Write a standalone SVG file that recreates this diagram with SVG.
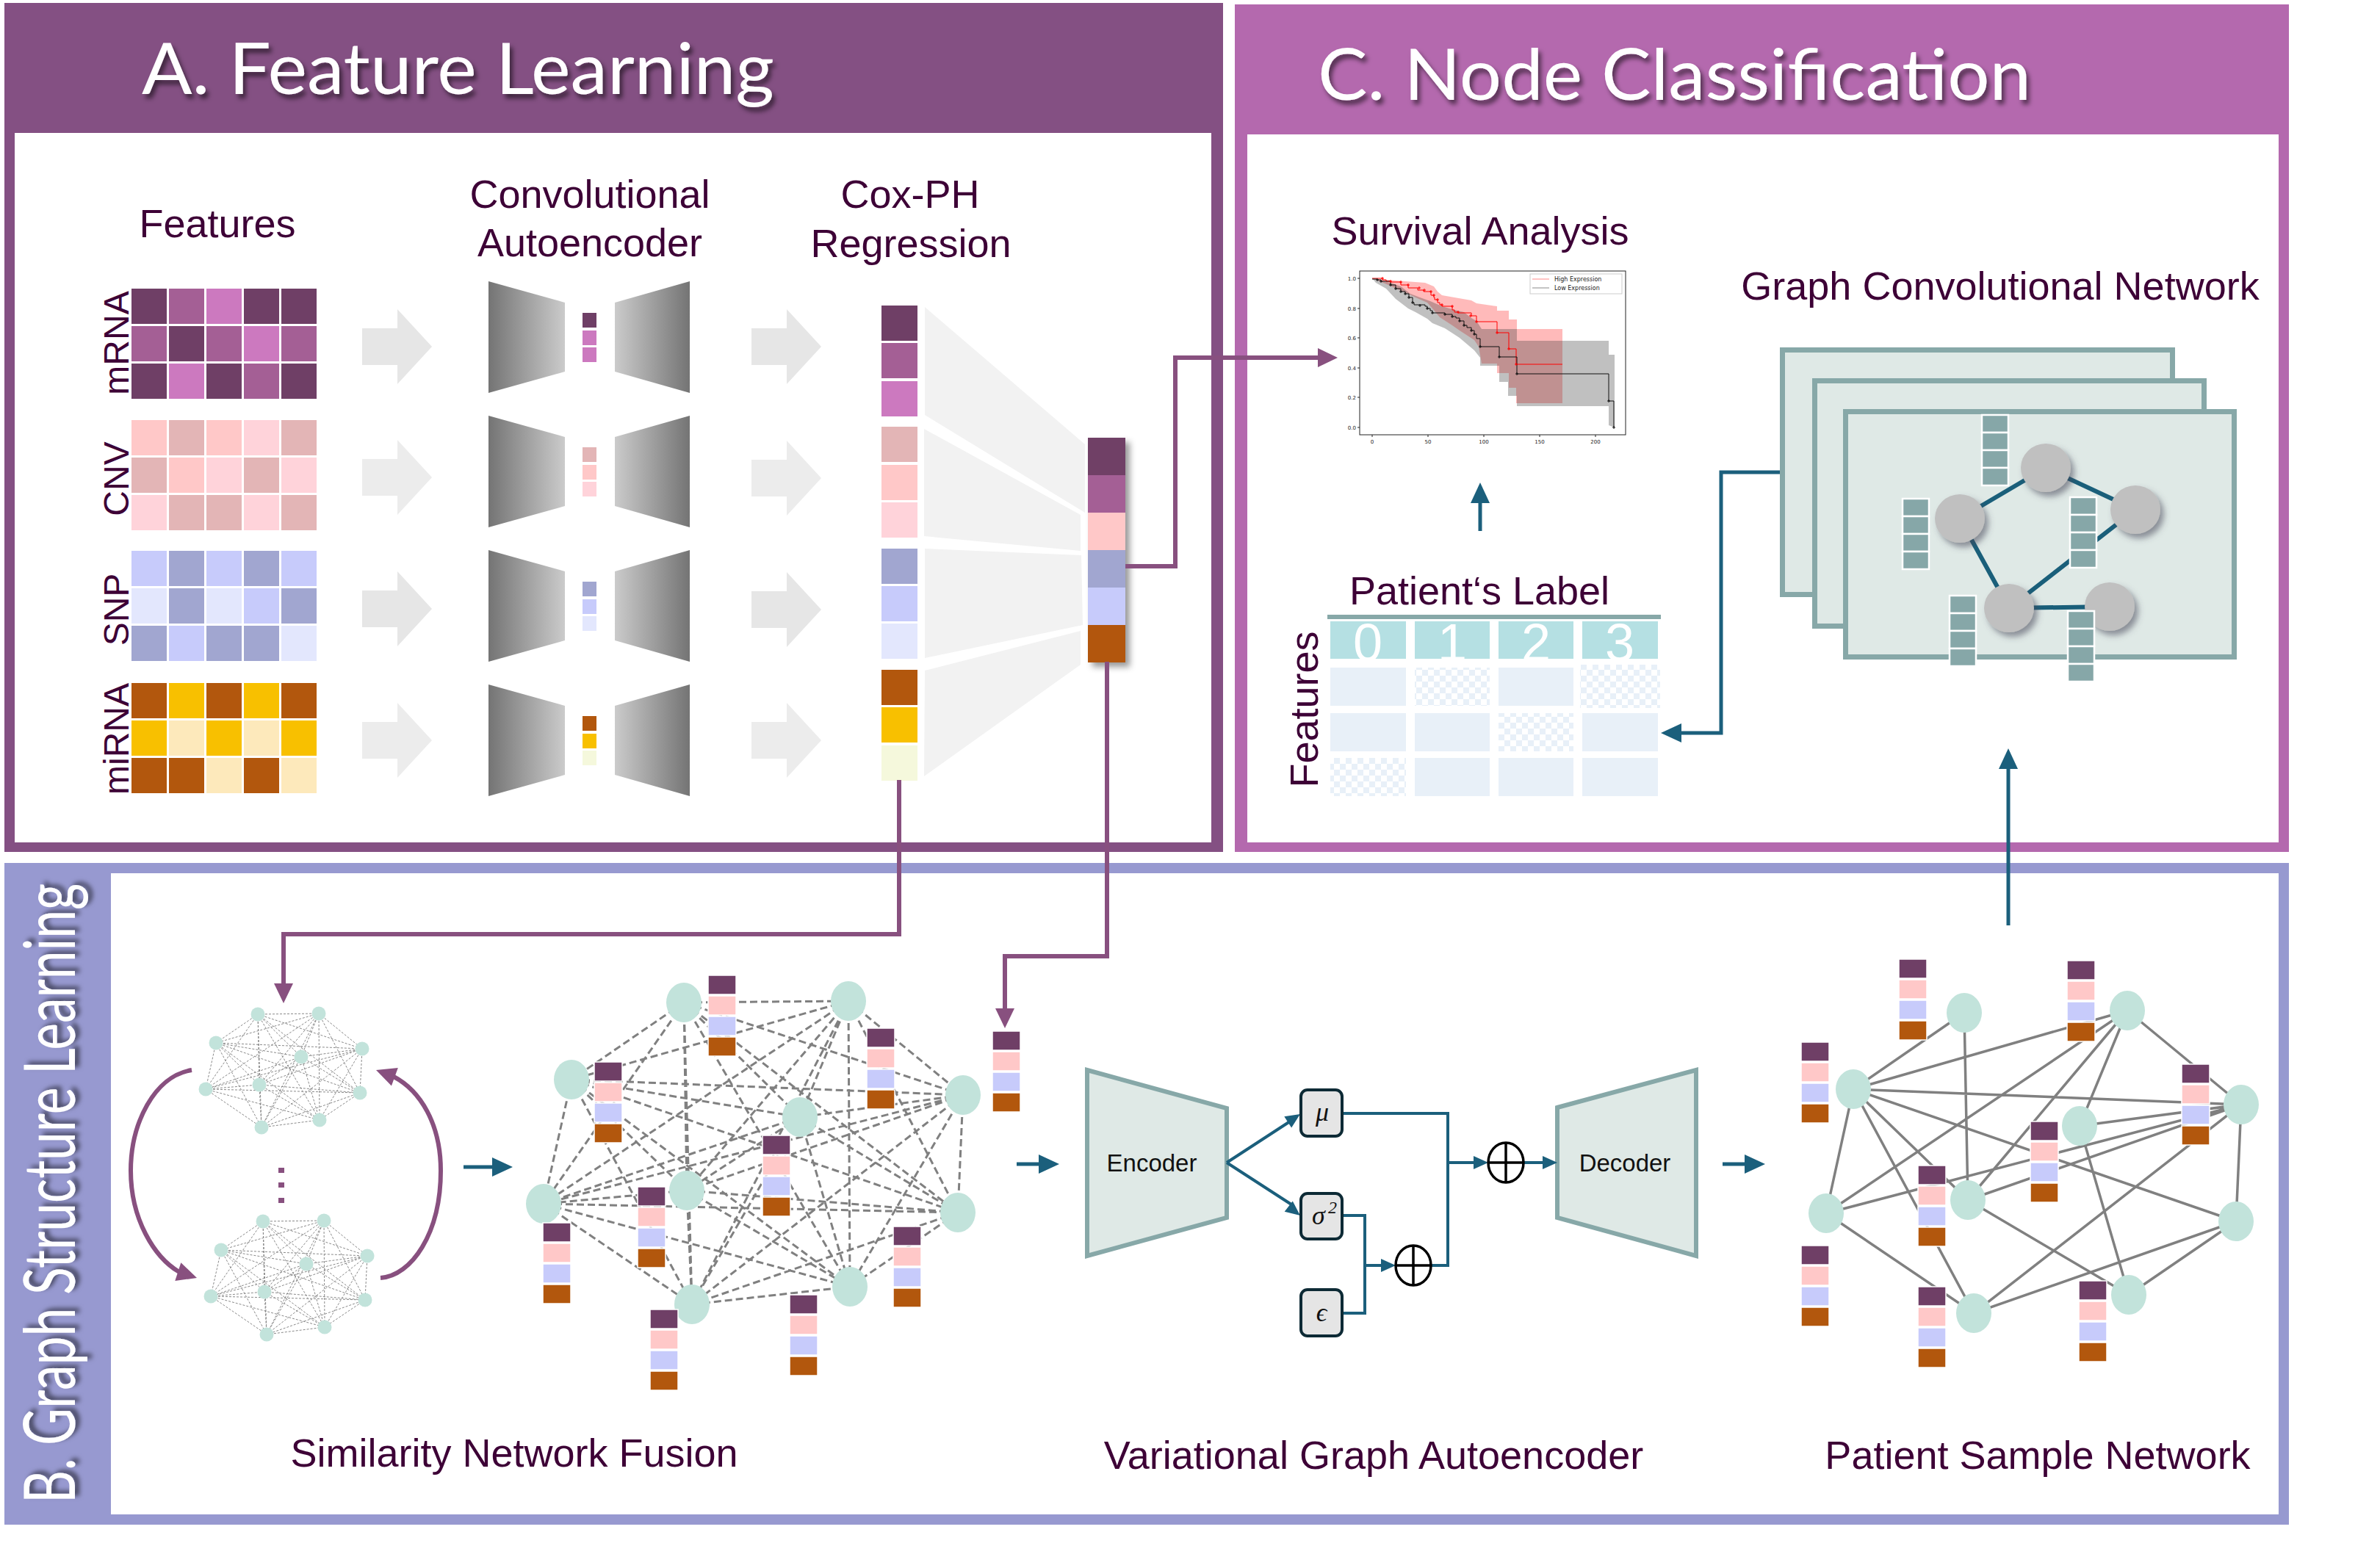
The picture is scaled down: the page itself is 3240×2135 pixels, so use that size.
<svg xmlns="http://www.w3.org/2000/svg" xmlns:xlink="http://www.w3.org/1999/xlink" width="3240" height="2135" viewBox="0 0 3240 2135">
<style>
.lbl{font-family:"Liberation Sans",Arial,sans-serif;font-size:54px;fill:#3d0036;text-anchor:middle}
.om{font-family:"Liberation Sans",Arial,sans-serif;font-size:48px;fill:#3d0036;text-anchor:middle}
.ttl{font-family:"Lato","Open Sans","Noto Sans",sans-serif;font-weight:400;fill:#ffffff;font-size:96px}
.m1{fill:#6f3f66}.m2{fill:#a45f95}.m3{fill:#cc79bf}
.c1{fill:#e3b5b6}.c2{fill:#ffc8c8}.c3{fill:#ffd3da}
.s1{fill:#a1a6d0}.s2{fill:#c7cbfb}.s3{fill:#e3e7fd}
.r1{fill:#b2570d}.r2{fill:#f8c000}.r3{fill:#fde9bb}.r4{fill:#f5f8dc}
.garr{fill:#e6e6e6}
.fun{fill:#f2f2f2}
.pcon{fill:none;stroke:#88507f;stroke-width:6}
.tcon{fill:none;stroke:#1b5f7c;stroke-width:5}
.vcon{fill:none;stroke:#1b5f7c;stroke-width:4}
.snode{fill:#c2e3db}
.tick{font-family:"DejaVu Sans",sans-serif;font-size:7px;fill:#222}
.leg{font-family:"DejaVu Sans",sans-serif;font-size:8px;fill:#222}
.frame{fill:#dfe9e6;stroke:#87a8a8;stroke-width:7}
.gedge{stroke:#1a5f7a;stroke-width:6;fill:none}
.cell{fill:#e8f0f8}
.hcell{fill:#b5e0e3}
.box{fill:#e5e5e5;stroke:#0d2a35;stroke-width:4}
.math{font-family:"Liberation Serif","DejaVu Serif",serif;font-style:italic;fill:#111}
.ed{font-family:"Liberation Sans",Arial,sans-serif;font-size:33px;fill:#111;text-anchor:middle}
</style>
<defs>
<filter id="tsh" x="-10%" y="-30%" width="120%" height="160%"><feDropShadow dx="4" dy="6" stdDeviation="3" flood-color="#000" flood-opacity="0.55"/></filter>
<filter id="nsh" x="-40%" y="-40%" width="180%" height="180%"><feDropShadow dx="5" dy="6" stdDeviation="4" flood-color="#445" flood-opacity="0.55"/></filter>
<filter id="csh" x="-30%" y="-10%" width="160%" height="120%"><feDropShadow dx="6" dy="6" stdDeviation="4" flood-color="#000" flood-opacity="0.4"/></filter>
<linearGradient id="gL" x1="0" y1="0" x2="1" y2="0"><stop offset="0" stop-color="#747474"/><stop offset="1" stop-color="#cbcbcb"/></linearGradient>
<linearGradient id="gR" x1="0" y1="0" x2="1" y2="0"><stop offset="0" stop-color="#cbcbcb"/><stop offset="1" stop-color="#747474"/></linearGradient>
<pattern id="chk" width="16" height="16" patternUnits="userSpaceOnUse"><rect width="16" height="16" fill="#ffffff"/><rect width="8" height="8" fill="#e8f0f8"/><rect x="8" y="8" width="8" height="8" fill="#e8f0f8"/></pattern>
<path id="garrow" d="M0 -25 H48 V-51 L95 0 L48 51 V25 H0 Z"/>
<path id="ahP" d="M0 0 L-27 -13 L-27 13 Z" fill="#88507f"/>
<path id="ahT" d="M0 0 L-28 -13 L-28 13 Z" fill="#1b5f7c"/>
<path id="ahS" d="M0 0 L-20 -9 L-20 9 Z" fill="#1b5f7c"/>
<g id="ae"><polygon points="0,0 104,29 104,123 0,152" fill="url(#gL)"/><polygon points="172,29 274,0 274,152 172,123" fill="url(#gR)"/></g>
<g id="stk" stroke="#ffffff" stroke-width="1.5"><rect width="38" height="26" class="m1"/><rect y="28" width="38" height="26" class="c2"/><rect y="56" width="38" height="26" class="s2"/><rect y="84" width="38" height="26" class="r1"/></g>
<g id="gcol" fill="#86a7a8" stroke="#ffffff" stroke-width="2.5"><rect width="36" height="24"/><rect y="24" width="36" height="24"/><rect y="48" width="36" height="24"/><rect y="72" width="36" height="24"/></g>
<path id="snfedges" fill="none" stroke="#8a8a8a" stroke-width="1" stroke-dasharray="3 2" d="M351 1381L434 1380M351 1381L294 1420M351 1381L493 1428M351 1381L410 1439M351 1381L280 1483M351 1381L353 1477M351 1381L490 1488M351 1381L356 1535M351 1381L435 1525M434 1380L294 1420M434 1380L493 1428M434 1380L410 1439M434 1380L280 1483M434 1380L353 1477M434 1380L490 1488M434 1380L356 1535M434 1380L435 1525M294 1420L493 1428M294 1420L410 1439M294 1420L280 1483M294 1420L353 1477M294 1420L490 1488M294 1420L356 1535M294 1420L435 1525M493 1428L410 1439M493 1428L280 1483M493 1428L353 1477M493 1428L490 1488M493 1428L356 1535M493 1428L435 1525M410 1439L280 1483M410 1439L353 1477M410 1439L490 1488M410 1439L356 1535M410 1439L435 1525M280 1483L353 1477M280 1483L490 1488M280 1483L356 1535M280 1483L435 1525M353 1477L490 1488M353 1477L356 1535M353 1477L435 1525M490 1488L356 1535M490 1488L435 1525M356 1535L435 1525"/>
<g id="snfnodes" class="snode"><circle cx="351" cy="1381" r="9.5"/><circle cx="434" cy="1380" r="9.5"/><circle cx="294" cy="1420" r="9.5"/><circle cx="493" cy="1428" r="9.5"/><circle cx="410" cy="1439" r="9.5"/><circle cx="280" cy="1483" r="9.5"/><circle cx="353" cy="1477" r="9.5"/><circle cx="490" cy="1488" r="9.5"/><circle cx="356" cy="1535" r="9.5"/><circle cx="435" cy="1525" r="9.5"/></g>
<clipPath id="hclip"><rect x="1811" y="846" width="103" height="51"/><rect x="1926" y="846" width="102" height="51"/><rect x="2040" y="846" width="102" height="51"/><rect x="2154" y="846" width="103" height="51"/></clipPath>
</defs>

<rect width="3240" height="2135" fill="#ffffff"/>

<!-- Panels -->
<g id="panelA">
<rect x="6" y="4" width="1659" height="1156" fill="#845083"/>
<rect x="20" y="181" width="1629" height="966" fill="#ffffff"/>
<text class="ttl" x="193" y="128" textLength="861" lengthAdjust="spacingAndGlyphs" filter="url(#tsh)">A. Feature Learning</text>
</g>
<g id="panelC">
<rect x="1681" y="6" width="1435" height="1154" fill="#b469ae"/>
<rect x="1698" y="183" width="1404" height="964" fill="#ffffff"/>
<text class="ttl" x="1794" y="136" textLength="971" lengthAdjust="spacingAndGlyphs" filter="url(#tsh)">C. Node Classification</text>
</g>
<g id="panelB">
<rect x="6" y="1175" width="3110" height="901" fill="#9799d0"/>
<rect x="151" y="1189" width="2951" height="873" fill="#ffffff"/>
<text class="ttl" transform="translate(102,2047) rotate(-90)" x="0" y="0" font-size="78" textLength="844" lengthAdjust="spacingAndGlyphs" filter="url(#tsh)">B. Graph Structure Learning</text>
</g>

<!-- A: Features -->
<g id="features">
<text class="lbl" x="296" y="323">Features</text>
<text class="om" transform="translate(175,467) rotate(-90)">mRNA</text>
<text class="om" transform="translate(175,652) rotate(-90)">CNV</text>
<text class="om" transform="translate(175,830) rotate(-90)">SNP</text>
<text class="om" transform="translate(175,1006) rotate(-90)">miRNA</text>
<g id="hm-mrna">
<rect x="179" y="393" width="48" height="48" class="m1"/><rect x="230" y="393" width="48" height="48" class="m2"/><rect x="281" y="393" width="48" height="48" class="m3"/><rect x="332" y="393" width="48" height="48" class="m1"/><rect x="383" y="393" width="48" height="48" class="m1"/>
<rect x="179" y="444" width="48" height="48" class="m2"/><rect x="230" y="444" width="48" height="48" class="m1"/><rect x="281" y="444" width="48" height="48" class="m2"/><rect x="332" y="444" width="48" height="48" class="m3"/><rect x="383" y="444" width="48" height="48" class="m2"/>
<rect x="179" y="495" width="48" height="48" class="m1"/><rect x="230" y="495" width="48" height="48" class="m3"/><rect x="281" y="495" width="48" height="48" class="m1"/><rect x="332" y="495" width="48" height="48" class="m2"/><rect x="383" y="495" width="48" height="48" class="m1"/>
</g>
<g id="hm-cnv">
<rect x="179" y="572" width="48" height="48" class="c2"/><rect x="230" y="572" width="48" height="48" class="c1"/><rect x="281" y="572" width="48" height="48" class="c2"/><rect x="332" y="572" width="48" height="48" class="c3"/><rect x="383" y="572" width="48" height="48" class="c1"/>
<rect x="179" y="623" width="48" height="48" class="c1"/><rect x="230" y="623" width="48" height="48" class="c2"/><rect x="281" y="623" width="48" height="48" class="c3"/><rect x="332" y="623" width="48" height="48" class="c1"/><rect x="383" y="623" width="48" height="48" class="c3"/>
<rect x="179" y="674" width="48" height="48" class="c3"/><rect x="230" y="674" width="48" height="48" class="c1"/><rect x="281" y="674" width="48" height="48" class="c1"/><rect x="332" y="674" width="48" height="48" class="c3"/><rect x="383" y="674" width="48" height="48" class="c1"/>
</g>
<g id="hm-snp">
<rect x="179" y="750" width="48" height="48" class="s2"/><rect x="230" y="750" width="48" height="48" class="s1"/><rect x="281" y="750" width="48" height="48" class="s2"/><rect x="332" y="750" width="48" height="48" class="s1"/><rect x="383" y="750" width="48" height="48" class="s2"/>
<rect x="179" y="801" width="48" height="48" class="s3"/><rect x="230" y="801" width="48" height="48" class="s1"/><rect x="281" y="801" width="48" height="48" class="s3"/><rect x="332" y="801" width="48" height="48" class="s2"/><rect x="383" y="801" width="48" height="48" class="s1"/>
<rect x="179" y="852" width="48" height="48" class="s1"/><rect x="230" y="852" width="48" height="48" class="s2"/><rect x="281" y="852" width="48" height="48" class="s1"/><rect x="332" y="852" width="48" height="48" class="s1"/><rect x="383" y="852" width="48" height="48" class="s3"/>
</g>
<g id="hm-mirna">
<rect x="179" y="930" width="48" height="48" class="r1"/><rect x="230" y="930" width="48" height="48" class="r2"/><rect x="281" y="930" width="48" height="48" class="r1"/><rect x="332" y="930" width="48" height="48" class="r2"/><rect x="383" y="930" width="48" height="48" class="r1"/>
<rect x="179" y="981" width="48" height="48" class="r2"/><rect x="230" y="981" width="48" height="48" class="r3"/><rect x="281" y="981" width="48" height="48" class="r2"/><rect x="332" y="981" width="48" height="48" class="r3"/><rect x="383" y="981" width="48" height="48" class="r2"/>
<rect x="179" y="1032" width="48" height="48" class="r1"/><rect x="230" y="1032" width="48" height="48" class="r1"/><rect x="281" y="1032" width="48" height="48" class="r3"/><rect x="332" y="1032" width="48" height="48" class="r1"/><rect x="383" y="1032" width="48" height="48" class="r3"/>
</g>
</g>

<g id="grayArrows" class="garr">
<use href="#garrow" transform="translate(493,472)"/><use href="#garrow" transform="translate(493,650)" fill="#ececec"/><use href="#garrow" transform="translate(493,829)"/><use href="#garrow" transform="translate(493,1008)" fill="#ececec"/>
<use href="#garrow" transform="translate(1023,472)"/><use href="#garrow" transform="translate(1023,651)" fill="#ececec"/><use href="#garrow" transform="translate(1023,830)"/><use href="#garrow" transform="translate(1023,1008)" fill="#ececec"/>
</g>

<g id="autoencoder">
<text class="lbl" x="803" y="283">Convolutional</text>
<text class="lbl" x="803" y="349">Autoencoder</text>
<use href="#ae" transform="translate(665,383)"/>
<use href="#ae" transform="translate(665,566)"/>
<use href="#ae" transform="translate(665,749)"/>
<use href="#ae" transform="translate(665,932)"/>
<rect x="793" y="426" width="19" height="20" class="m1"/><rect x="793" y="450" width="19" height="20" class="m3"/><rect x="793" y="473" width="19" height="20" class="m3"/>
<rect x="793" y="609" width="19" height="20" class="c1"/><rect x="793" y="633" width="19" height="20" class="c2"/><rect x="793" y="656" width="19" height="20" class="c3"/>
<rect x="793" y="792" width="19" height="20" class="s1"/><rect x="793" y="816" width="19" height="20" class="s2"/><rect x="793" y="839" width="19" height="20" class="s3"/>
<rect x="793" y="975" width="19" height="20" class="r1"/><rect x="793" y="999" width="19" height="20" class="r2"/><rect x="793" y="1022" width="19" height="20" class="r4"/>
</g>

<g id="coxph">
<text class="lbl" x="1239" y="283">Cox-PH</text>
<text class="lbl" x="1240" y="350">Regression</text>
<polygon class="fun" points="1259,418 1477,605 1477,698 1259,565"/>
<polygon class="fun" points="1258,584 1471,701 1471,750 1258,730"/>
<polygon class="fun" points="1259,747 1472,756 1474,851 1259,896"/>
<polygon class="fun" points="1259,913 1471,859 1471,905 1258,1057"/>
<rect x="1200" y="416" width="49" height="48" class="m1"/><rect x="1200" y="467" width="49" height="48" class="m2"/><rect x="1200" y="519" width="49" height="48" class="m3"/>
<rect x="1200" y="581" width="49" height="48" class="c1"/><rect x="1200" y="633" width="49" height="48" class="c2"/><rect x="1200" y="684" width="49" height="48" class="c3"/>
<rect x="1200" y="747" width="49" height="48" class="s1"/><rect x="1200" y="798" width="49" height="48" class="s2"/><rect x="1200" y="849" width="49" height="48" class="s3"/>
<rect x="1200" y="912" width="49" height="48" class="r1"/><rect x="1200" y="963" width="49" height="48" class="r2"/><rect x="1200" y="1015" width="49" height="48" class="r4"/>
</g>
<g id="outcol" filter="url(#csh)">
<rect x="1481" y="596" width="51" height="51" class="m1"/><rect x="1481" y="647" width="51" height="51" class="m2"/><rect x="1481" y="698" width="51" height="51" class="c2"/><rect x="1481" y="749" width="51" height="51" class="s1"/><rect x="1481" y="800" width="51" height="51" class="s2"/><rect x="1481" y="851" width="51" height="51" class="r1"/>
</g>

<!-- C: survival -->
<g id="survival">
<text class="lbl" x="2015" y="333">Survival Analysis</text>
<polygon fill="#ff0000" fill-opacity="0.27" points="1868,379 1900,382 1940,385 1952,390 1957,397 1963,402 1980,405 2003,409 2010,413 2038,417 2038,423 2054,423 2054,435 2065,435 2065,448 2127,448 2127,549 2064,549 2064,528 2054,528 2054,508 2038,508 2038,495 2017,495 2013,472 2007,463 1987,450 1977,443 1960,432 1950,420 1943,412 1927,405 1910,397 1883,385"/>
<polygon fill="#404040" fill-opacity="0.33" points="1868,379 1880,382 1893,385 1907,390 1920,400 1933,405 1947,410 1963,417 1980,422 1993,425 2003,433 2010,437 2017,448 2065,448 2065,464 2190,464 2190,483 2198,483 2198,582 2190,579 2190,553 2065,553 2065,539 2053,539 2053,520 2041,520 2041,498 2015,498 2015,487 2007,477 1987,460 1967,447 1950,440 1943,434 1927,425 1917,420 1900,407 1887,393 1873,385"/>
<path fill="none" stroke="#ff0000" stroke-width="1" d="M1868 379 H1882 V381 H1887 V383 H1893 V384 H1907 V388 H1917 V392 H1930 V395 H1938 V397 H1948 V402 H1952 V405 H1953 V408 H1957 V412 H1960 V415 H1963 V417 H1977 V422 H1980 V425 H1985 V426 H2003 V430 H2010 V438 H2038 V453 H2054 V475 H2064 V496 H2127"/>
<path fill="none" stroke="#111" stroke-width="1" d="M1868 380 H1875 V381 H1880 V383 H1893 V388 H1900 V393 H1907 V397 H1913 V400 H1918 V405 H1923 V412 H1925 V415 H1940 V417 H1943 V420 H1947 V423 H1950 V426 H1967 V428 H1977 V431 H1982 V433 H1987 V437 H1993 V443 H1997 V446 H2003 V450 H2007 V455 H2010 V461 H2015 V472 H2041 V486 H2065 V509 H2190 V546 H2197 V582"/>
<path fill="none" stroke="#ff0000" stroke-width="1" d="M1880 379h4m-2 -2v4M1891 383h4m-2 -2v4M1905 384h4m-2 -2v4M1915 388h4m-2 -2v4M1930 392h4m-2 -2v4M1937 395h4m-2 -2v4M1946 397h4m-2 -2v4M1950 402h4m-2 -2v4M1955 408h4m-2 -2v4M1961 415h4m-2 -2v4M1975 417h4m-2 -2v4M1983 425h4m-2 -2v4M2000 430h4m-2 -2v4M2008 438h4m-2 -2v4M2036 453h4m-2 -2v4M2052 475h4m-2 -2v4M2062 496h4m-2 -2v4"/>
<path fill="none" stroke="#111" stroke-width="1" d="M1873 381h4m-2 -2v4M1878 383h4m-2 -2v4M1891 388h4m-2 -2v4M1898 393h4m-2 -2v4M1905 397h4m-2 -2v4M1911 400h4m-2 -2v4M1916 405h4m-2 -2v4M1921 412h4m-2 -2v4M1931 416h4m-2 -2v4M1941 420h4m-2 -2v4M1948 426h4m-2 -2v4M1965 428h4m-2 -2v4M1975 431h4m-2 -2v4M1985 437h4m-2 -2v4M1991 443h4m-2 -2v4M2001 450h4m-2 -2v4M2005 455h4m-2 -2v4M2013 472h4m-2 -2v4M2039 486h4m-2 -2v4M2063 509h4m-2 -2v4M2188 546h4m-2 -2v4M2195 582h4m-2 -2v4"/>
<rect x="1851" y="369" width="362" height="223" fill="none" stroke="#222" stroke-width="1"/>
<path stroke="#222" stroke-width="1" d="M1848 379H1851M1848 420H1851M1848 460H1851M1848 501H1851M1848 541H1851M1848 582H1851M1868 592V595M1944 592V595M2020 592V595M2096 592V595M2172 592V595"/>
<g class="tick" text-anchor="end"><text x="1846" y="382">1.0</text><text x="1846" y="423">0.8</text><text x="1846" y="463">0.6</text><text x="1846" y="504">0.4</text><text x="1846" y="544">0.2</text><text x="1846" y="585">0.0</text></g>
<g class="tick" text-anchor="middle"><text x="1868" y="604">0</text><text x="1944" y="604">50</text><text x="2020" y="604">100</text><text x="2096" y="604">150</text><text x="2172" y="604">200</text></g>
<rect x="2083" y="373" width="125" height="27" fill="#ffffff" stroke="#cccccc" stroke-width="1"/>
<path d="M2086 380H2109" stroke="#ff8a8a" stroke-width="1"/><path d="M2086 392H2109" stroke="#8a8a8a" stroke-width="1"/>
<text class="leg" x="2116" y="383">High Expression</text><text class="leg" x="2116" y="395">Low Expression</text>
</g>

<g id="labeltable">
<text class="lbl" x="2014" y="823">Patient‘s Label</text>
<rect x="1807" y="837" width="454" height="6" fill="#87a8a8"/>
<rect x="1811" y="846" width="103" height="51" class="hcell"/><rect x="1926" y="846" width="102" height="51" class="hcell"/><rect x="2040" y="846" width="102" height="51" class="hcell"/><rect x="2154" y="846" width="103" height="51" class="hcell"/>
<g clip-path="url(#hclip)" font-family="Liberation Sans,Arial,sans-serif" font-size="72" fill="#ffffff" text-anchor="middle"><text x="1862" y="900">0</text><text x="1977" y="900">1</text><text x="2091" y="900">2</text><text x="2205" y="900">3</text></g>
<rect x="1811" y="909" width="103" height="52" class="cell"/><rect x="1926" y="909" width="102" height="52" fill="url(#chk)"/><rect x="2040" y="909" width="102" height="52" class="cell"/><rect x="2151" y="905" width="109" height="59" fill="url(#chk)"/>
<rect x="1811" y="971" width="103" height="52" class="cell"/><rect x="1926" y="971" width="102" height="52" class="cell"/><rect x="2040" y="971" width="102" height="52" fill="url(#chk)"/><rect x="2154" y="971" width="103" height="52" class="cell"/>
<rect x="1811" y="1032" width="103" height="52" fill="url(#chk)"/><rect x="1926" y="1032" width="102" height="52" class="cell"/><rect x="2040" y="1032" width="102" height="52" class="cell"/><rect x="2154" y="1032" width="103" height="52" class="cell"/>
<text class="lbl" transform="translate(1794,966) rotate(-90)">Features</text>
</g>

<g id="gcn">
<text class="lbl" x="2723" y="408">Graph Convolutional Network</text>
<rect class="frame" x="2426.5" y="476.5" width="531" height="333"/>
<rect class="frame" x="2470.5" y="518.5" width="530" height="334"/>
<rect class="frame" x="2512.5" y="560.5" width="529" height="334"/>
<path class="gedge" d="M2668 706L2785 637M2785 637L2907 694M2907 694L2735 828M2668 706L2735 828M2735 828L2872 826"/>
<g fill="#c0c0c0" filter="url(#nsh)"><ellipse cx="2785" cy="637" rx="34" ry="33"/><ellipse cx="2668" cy="706" rx="34" ry="33"/><ellipse cx="2907" cy="694" rx="34" ry="33"/><ellipse cx="2735" cy="828" rx="34" ry="33"/><ellipse cx="2872" cy="826" rx="34" ry="33"/></g>
<use href="#gcol" transform="translate(2698,565)"/><use href="#gcol" transform="translate(2590,679)"/><use href="#gcol" transform="translate(2818,677)"/><use href="#gcol" transform="translate(2654,811)"/><use href="#gcol" transform="translate(2815,832)"/>
</g>

<!-- B: SNF -->
<g id="snf-single">
<use href="#snfedges"/><use href="#snfnodes"/>
<use href="#snfedges" transform="translate(7,282)"/><use href="#snfnodes" transform="translate(7,282)"/>
<g fill="#88507f"><rect x="379" y="1590" width="8" height="7"/><rect x="379" y="1610" width="8" height="7"/><rect x="379" y="1631" width="8" height="7"/></g>
</g>

<g id="snf-fused">
<path fill="none" stroke="#808080" stroke-width="3" stroke-dasharray="10 5" d="M931 1365L1155 1363M931 1365L778 1470M931 1365L1311 1491M931 1365L1089 1521M931 1365L935 1621M931 1365L740 1639M931 1365L1304 1651M931 1365L942 1776M931 1365L1157 1752M1155 1363L778 1470M1155 1363L1311 1491M1155 1363L1089 1521M1155 1363L935 1621M1155 1363L740 1639M1155 1363L1304 1651M1155 1363L942 1776M1155 1363L1157 1752M778 1470L1311 1491M778 1470L1089 1521M778 1470L935 1621M778 1470L740 1639M778 1470L1304 1651M778 1470L942 1776M778 1470L1157 1752M1311 1491L1089 1521M1311 1491L935 1621M1311 1491L740 1639M1311 1491L1304 1651M1311 1491L942 1776M1311 1491L1157 1752M1089 1521L935 1621M1089 1521L740 1639M1089 1521L1304 1651M1089 1521L942 1776M1089 1521L1157 1752M935 1621L740 1639M935 1621L1304 1651M935 1621L942 1776M935 1621L1157 1752M740 1639L1304 1651M740 1639L942 1776M740 1639L1157 1752M1304 1651L942 1776M1304 1651L1157 1752M942 1776L1157 1752"/>
<g class="snode"><ellipse cx="931" cy="1365" rx="24" ry="27"/><ellipse cx="1155" cy="1363" rx="24" ry="27"/><ellipse cx="778" cy="1470" rx="24" ry="27"/><ellipse cx="1311" cy="1491" rx="24" ry="27"/><ellipse cx="1089" cy="1521" rx="24" ry="27"/><ellipse cx="935" cy="1621" rx="24" ry="27"/><ellipse cx="740" cy="1639" rx="24" ry="27"/><ellipse cx="1304" cy="1651" rx="24" ry="27"/><ellipse cx="942" cy="1776" rx="24" ry="27"/><ellipse cx="1157" cy="1752" rx="24" ry="27"/></g>
<use href="#stk" transform="translate(964,1328)"/><use href="#stk" transform="translate(809,1446)"/><use href="#stk" transform="translate(1180,1400)"/><use href="#stk" transform="translate(1038,1546)"/><use href="#stk" transform="translate(868,1616)"/><use href="#stk" transform="translate(739,1665)"/><use href="#stk" transform="translate(1216,1670)"/><use href="#stk" transform="translate(885,1783)"/><use href="#stk" transform="translate(1075,1763)"/><use href="#stk" transform="translate(1351,1404)"/>
<text class="lbl" x="700" y="1997">Similarity Network Fusion</text>
</g>

<!-- B: VGAE -->
<g id="vgae">
<polygon points="1480,1457 1670,1509 1670,1658 1480,1710" fill="#dfe9e6" stroke="#87a8a8" stroke-width="6"/>
<text class="ed" x="1568" y="1595">Encoder</text>
<polygon points="2120,1508 2309,1457 2309,1710 2120,1658" fill="#dfe9e6" stroke="#87a8a8" stroke-width="6"/>
<text class="ed" x="2212" y="1595">Decoder</text>
<path class="vcon" d="M1670 1583L1756 1527M1670 1583L1758 1640M1829 1516H1971V1723H1948M1971 1583H2006M2074 1583H2100M1829 1655H1858V1788H1829M1858 1723H1880"/>
<use href="#ahS" transform="translate(1770,1517) rotate(-33)"/>
<use href="#ahS" transform="translate(1770,1655) rotate(38)"/>
<use href="#ahS" transform="translate(2026,1583)"/>
<use href="#ahS" transform="translate(2120,1583)"/>
<use href="#ahS" transform="translate(1900,1723)"/>
<rect class="box" x="1771" y="1484" width="56" height="63" rx="9"/>
<rect class="box" x="1771" y="1625" width="56" height="62" rx="9"/>
<rect class="box" x="1771" y="1756" width="56" height="63" rx="9"/>
<text class="math" x="1800" y="1526" font-size="36" text-anchor="middle">μ</text>
<text class="math" x="1795" y="1667" font-size="36" text-anchor="middle">σ</text>
<text class="math" x="1814" y="1652" font-size="24" text-anchor="middle">2</text>
<text class="math" x="1799" y="1799" font-size="36" text-anchor="middle">ϵ</text>
<g fill="none" stroke="#000" stroke-width="3.5"><ellipse cx="2050" cy="1583" rx="24" ry="27"/><path d="M2026 1583H2074M2050 1556V1610"/><ellipse cx="1924" cy="1723" rx="24" ry="27"/><path d="M1900 1723H1948M1924 1696V1750"/></g>
<text class="lbl" x="1870" y="2000">Variational Graph Autoencoder</text>
</g>

<!-- B: patient network -->
<g id="patientnet">
<path fill="none" stroke="#808080" stroke-width="3.5" d="M2523 1483L2674 1379M2523 1483L2896 1376M2523 1483L3051 1504M2523 1483L3044 1663M2523 1483L2679 1634M2523 1483L2687 1788M2523 1483L2486 1652M2674 1379L2679 1634M2896 1376L2486 1652M2896 1376L2679 1634M2896 1376L2831 1533M2896 1376L3051 1504M3051 1504L2831 1533M3051 1504L2486 1652M3051 1504L2679 1634M3051 1504L2687 1788M3051 1504L3044 1663M2831 1533L2898 1763M2679 1634L2898 1763M2486 1652L2687 1788M3044 1663L2687 1788M3044 1663L2898 1763"/>
<g class="snode"><ellipse cx="2674" cy="1379" rx="24" ry="27"/><ellipse cx="2896" cy="1376" rx="24" ry="27"/><ellipse cx="2523" cy="1483" rx="24" ry="27"/><ellipse cx="3051" cy="1504" rx="24" ry="27"/><ellipse cx="2831" cy="1533" rx="24" ry="27"/><ellipse cx="2679" cy="1634" rx="24" ry="27"/><ellipse cx="2486" cy="1652" rx="24" ry="27"/><ellipse cx="3044" cy="1663" rx="24" ry="27"/><ellipse cx="2898" cy="1763" rx="24" ry="27"/><ellipse cx="2687" cy="1788" rx="24" ry="27"/></g>
<use href="#stk" transform="translate(2585,1306)"/><use href="#stk" transform="translate(2452,1419)"/><use href="#stk" transform="translate(2814,1308)"/><use href="#stk" transform="translate(2970,1449)"/><use href="#stk" transform="translate(2764,1527)"/><use href="#stk" transform="translate(2611,1587)"/><use href="#stk" transform="translate(2452,1696)"/><use href="#stk" transform="translate(2611,1752)"/><use href="#stk" transform="translate(2830,1744)"/>
<text class="lbl" x="2774" y="2000">Patient Sample Network</text>
</g>

<!-- Connectors -->
<g id="connectors">
<path class="pcon" d="M1532 771H1600V487H1795"/>
<use href="#ahP" transform="translate(1821,487)"/>
<path class="pcon" d="M1224 1062V1272H386V1341"/>
<use href="#ahP" transform="translate(386,1366) rotate(90)"/>
<path class="pcon" d="M1507 901V1302H1368V1375"/>
<use href="#ahP" transform="translate(1368,1400) rotate(90)"/>
<path class="pcon" d="M261 1457C210 1465 178 1530 178 1594C178 1660 210 1712 244 1732"/>
<use href="#ahP" transform="translate(268,1740) rotate(18)"/>
<path class="pcon" d="M518 1740C560 1737 600 1680 600 1594C600 1530 572 1485 536 1466"/>
<use href="#ahP" transform="translate(512,1457) rotate(200)"/>
<path class="tcon" d="M631 1589H672"/><use href="#ahT" transform="translate(698,1589)"/>
<path class="tcon" d="M1384 1585H1416"/><use href="#ahT" transform="translate(1442,1585)"/>
<path class="tcon" d="M2345 1585H2377"/><use href="#ahT" transform="translate(2403,1585)"/>
<path class="tcon" d="M2015 723V682"/><use href="#ahT" transform="translate(2015,657) rotate(-90)"/>
<path class="tcon" d="M2734 1260V1045"/><use href="#ahT" transform="translate(2734,1019) rotate(-90)"/>
<path class="tcon" d="M2423 643H2343V998H2287"/><use href="#ahT" transform="translate(2261,998) rotate(180)"/>
</g>
</svg>
